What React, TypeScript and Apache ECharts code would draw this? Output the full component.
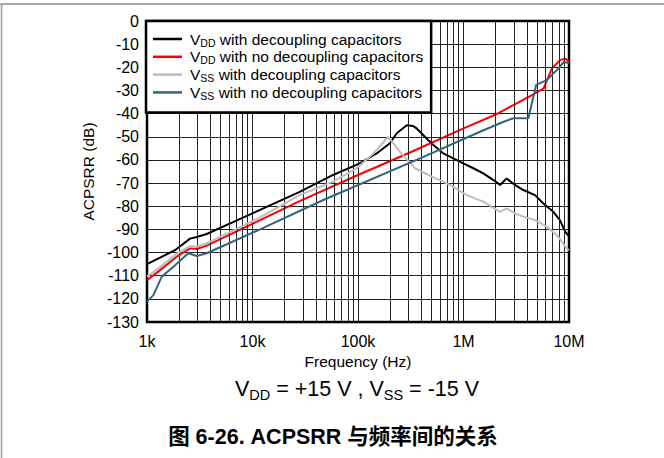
import React, { useEffect, useRef } from "react";
import * as echarts from "echarts";

const FONT = '"Liberation Sans", Arial, sans-serif';
const CJK = '"Liberation Sans", Arial, "Noto Sans CJK SC", sans-serif';

// Tick labels
const xTickValues = [1e3, 1e4, 1e5, 1e6, 1e7];
const xTickLabels = ["1k", "10k", "100k", "1M", "10M"];
const minorMantissas = [2, 3, 4, 5, 6, 7, 8, 9];
const minorDecades = [1e3, 1e4, 1e5, 1e6];

// VDD with decoupling capacitors (black)
const vddDecFreq = [1000, 1840, 2560, 2960, 3680, 11800, 28000, 58000, 104000, 150000, 201000, 233000, 290000, 330000, 360000, 431000, 518000, 644000, 800000, 995000, 1240000, 1540000, 1920000, 2220000, 2560000, 3070000, 3690000, 4760000, 5710000, 7100000, 8200000, 9200000, 10000000];
const vddDecDb = [-105, -99, -94, -93.3, -92, -81.6, -73.8, -66.5, -61.5, -57.2, -52.8, -48.5, -45, -45.3, -46.4, -50, -53.6, -57.2, -59.3, -61.5, -63.6, -65.8, -68.7, -70.8, -68, -70.8, -73, -75.2, -78.8, -82.4, -86, -91, -93];

// VDD with no decoupling capacitors (red)
const vddNoFreq = [1000, 1330, 1910, 2560, 2960, 3680, 11800, 28000, 100000, 311000, 1000000, 2000000, 3000000, 4460000, 5750000, 6900000, 8300000, 9300000, 10000000];
const vddNoDb = [-112, -107.6, -101.8, -98.2, -98.5, -97, -86, -77.8, -66.5, -56.8, -46.4, -40.5, -36.2, -32, -29.1, -20.4, -16.8, -16.3, -17.6];

// VSS with decoupling capacitors (gray)
const vssDecFreq = [1000, 1330, 1910, 2560, 2960, 3680, 11800, 28000, 58000, 97000, 140000, 194000, 250000, 347000, 518000, 745000, 1070000, 1540000, 2220000, 2560000, 3070000, 3690000, 4760000, 6150000, 7660000, 9500000, 10000000];
const vssDecDb = [-110.4, -106.3, -100.5, -97.2, -97.5, -96, -84.8, -75.2, -69.4, -63.6, -57.2, -50, -56.5, -63.6, -67.5, -70.8, -75.2, -78, -82.4, -80.9, -83.1, -84.5, -86, -88.8, -92.4, -98.2, -99];

// VSS with no decoupling capacitors (blue)
const vssNoFreq = [1000, 1150, 1380, 1780, 2460, 2960, 3680, 11800, 46900, 387000, 1490000, 2400000, 2970000, 4120000, 4880000, 6150000, 7660000, 8970000, 10000000];
const vssNoDb = [-121.2, -118.4, -110.4, -106.1, -100.3, -101.5, -100.3, -90, -77.3, -59.3, -47.5, -43.5, -42, -42, -27.6, -25.5, -21.2, -17.6, -18.3];

const seriesNames = ["vddDec", "vddNo", "vssDec", "vssNo"];
const seriesColors = ["#000000", "#ff0000", "#bdbdbd", "#31657f"];
const legendLabels: Record<string, string> = {
  vddDec: "{v|V}{s|DD}{n| with decoupling capacitors}",
  vddNo: "{v|V}{s|DD}{n| with no decoupling capacitors}",
  vssDec: "{v|V}{s|SS}{n| with decoupling capacitors}",
  vssNo: "{v|V}{s|SS}{n| with no decoupling capacitors}",
};

const zip = (f: number[], d: number[]) => f.map((x, i) => [x, d[i]]);

export default function App() {
  const ref = useRef<HTMLDivElement>(null);
  useEffect(() => {
    if (!ref.current) return;
    const chart = echarts.init(ref.current, null, { renderer: "svg" });
    const datas = [
      zip(vddDecFreq, vddDecDb),
      zip(vddNoFreq, vddNoDb),
      zip(vssDecFreq, vssDecDb),
      zip(vssNoFreq, vssNoDb),
    ];
    const minorLines: { xAxis: number }[] = [];
    minorDecades.forEach((d) => minorMantissas.forEach((m) => minorLines.push({ xAxis: m * d })));

    chart.setOption({
      animation: false,
      backgroundColor: "#ffffff",
      grid: {
        left: 147,
        right: 95,
        top: 21,
        bottom: 136,
        show: true,
        borderColor: "#000",
        borderWidth: 2.5,
        backgroundColor: "transparent",
        z: 4,
      },
      xAxis: {
        type: "log",
        logBase: 10,
        min: 1000,
        max: 1e7,
        name: "Frequency (Hz)",
        nameLocation: "middle",
        nameGap: 29,
        nameTextStyle: { fontFamily: FONT, fontSize: 15.5, color: "#000" },
        axisLine: { show: false },
        axisTick: { show: false },
        splitLine: { show: true, lineStyle: { color: "#222", width: 1 } },
        axisLabel: {
          fontFamily: FONT,
          fontSize: 16,
          color: "#000",
          margin: 11,
          formatter: (v: number) => {
            const i = xTickValues.findIndex((t) => Math.abs(t - v) / t < 1e-6);
            return i >= 0 ? xTickLabels[i] : "";
          },
        },
      },
      yAxis: {
        type: "value",
        min: -130,
        max: 0,
        interval: 10,
        name: "ACPSRR (dB)",
        nameLocation: "middle",
        nameGap: 50,
        nameRotate: 90,
        nameTextStyle: { fontFamily: FONT, fontSize: 15.5, color: "#000" },
        axisLine: { show: false },
        axisTick: { show: false },
        splitLine: { show: true, lineStyle: { color: "#222", width: 1 } },
        axisLabel: { fontFamily: FONT, fontSize: 16, color: "#000", margin: 8 },
      },
      legend: {
        orient: "vertical",
        left: 146,
        top: 21,
        z: 10,
        backgroundColor: "#fff",
        borderColor: "#000",
        borderWidth: 2.5,
        borderRadius: 0,
        padding: [10, 8, 11, 7],
        itemGap: 0.8,
        itemWidth: 29,
        itemHeight: 2.5,
        icon: "rect",
        data: seriesNames,
        formatter: (name: string) => legendLabels[name],
        textStyle: {
          fontFamily: FONT,
          fontSize: 15.5,
          color: "#000",
          rich: {
            v: { fontFamily: FONT, fontSize: 15.5, color: "#000", padding: [0, 0, 0, 3] },
            s: { fontFamily: FONT, fontSize: 10.5, color: "#000", padding: [7, 0, 0, 0] },
            n: { fontFamily: FONT, fontSize: 15.5, color: "#000" },
          },
        },
      },
      series: [
        {
          name: "minorGrid",
          type: "line",
          data: [],
          z: 1,
          silent: true,
          markLine: {
            silent: true,
            symbol: ["none", "none"],
            label: { show: false },
            lineStyle: { color: "#222", width: 1, type: "solid" },
            emphasis: { disabled: true },
            data: minorLines,
          },
        },
        ...seriesNames.map((n, i) => ({
          name: n,
          type: "line",
          data: datas[i],
          symbol: "none",
          showSymbol: false,
          color: seriesColors[i],
          z: 3 + i,
          lineStyle: { color: seriesColors[i], width: 2 },
          itemStyle: { color: seriesColors[i] },
        })),
      ],
      graphic: [
        { type: "line", shape: { x1: 0, y1: 4, x2: 664, y2: 4 }, style: { stroke: "#8a8a8a", lineWidth: 1.5 } },
        { type: "line", shape: { x1: 1.5, y1: 4, x2: 1.5, y2: 458 }, style: { stroke: "#a0a0a0", lineWidth: 1.5 } },
        {
          type: "text",
          x: 357,
          y: 389,
          style: {
            text: "{a|V}{b|DD}{a| = +15 V , V}{b|SS}{a| = -15 V}",
            align: "center",
            verticalAlign: "middle",
            rich: {
              a: { fontFamily: FONT, fontSize: 21.5, fill: "#000" },
              b: { fontFamily: FONT, fontSize: 14.5, fill: "#000", padding: [11, 0, 0, 0] },
            },
          },
        },
        {
          type: "text",
          x: 333,
          y: 437,
          style: {
            text: "图 6-26. ACPSRR 与频率间的关系",
            align: "center",
            verticalAlign: "middle",
            fontFamily: CJK,
            fontWeight: "bold",
            fontSize: 21.5,
            fill: "#000",
          },
        },
      ],
    });
    return () => chart.dispose();
  }, []);
  return (
    <div
      ref={ref}
      style={{ position: "fixed", left: 0, top: 0, width: 664, height: 458 }}
    />
  );
}
